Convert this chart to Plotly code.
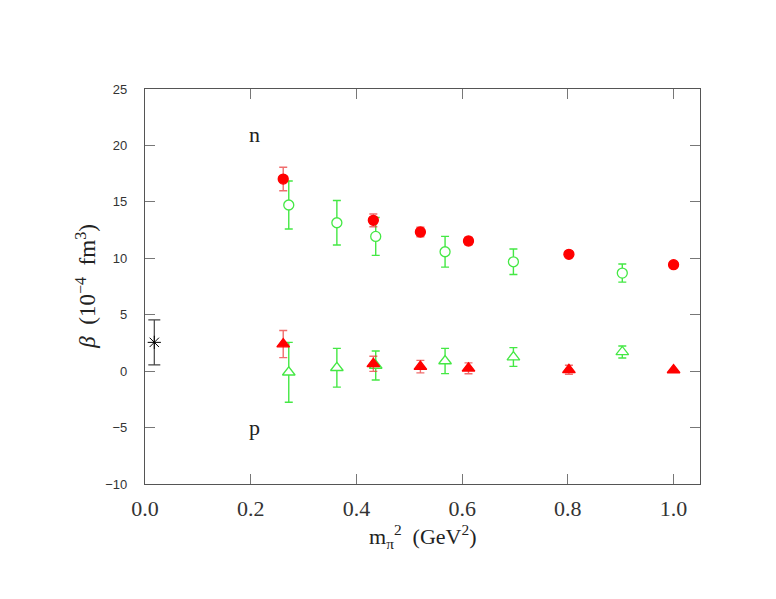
import plotly.graph_objects as go

# neutron (upper) and proton (lower) beta values, two lattice sets
x_red = [0.2615, 0.432, 0.521, 0.612, 0.802, 1.000]
n_red = [17.02, 13.36, 12.33, 11.53, 10.35, 9.43]
n_red_err = [1.04, 0.57, 0.42, 0.33, 0.0, 0.0]
p_red = [2.4, 0.65, 0.4, 0.25, 0.12, 0.1]
p_red_err = [1.2, 0.67, 0.55, 0.48, 0.4, 0.0]

x_green = [0.272, 0.363, 0.4365, 0.5677, 0.697, 0.903]
n_green = [14.72, 13.15, 11.94, 10.58, 9.69, 8.69]
n_green_err = [2.13, 1.97, 1.68, 1.36, 1.13, 0.8]
p_green = [-0.1, 0.3, 0.5, 0.9, 1.25, 1.7]
p_green_err = [2.65, 1.72, 1.28, 1.12, 0.83, 0.53]

x_exp = [0.0176]
y_exp = [2.55]
y_exp_err = [2.0]

RED = "#ff0000"
RED_BAR = "rgba(235,60,60,0.75)"
GREEN = "#44e844"
SERIF = "Liberation Serif"

fig = go.Figure()

def add(x, y, err, sym, color, barcolor, size, fill=True):
    fig.add_trace(go.Scatter(
        x=x, y=y, mode="markers",
        marker=dict(symbol=sym, size=size,
                    color=color if fill else "white",
                    line=dict(color=color, width=1.3)),
        error_y=dict(type="data", array=err, visible=True,
                     color=barcolor, thickness=1.4, width=4),
        showlegend=False))

add(x_green, n_green, n_green_err, "circle", GREEN, GREEN, 10, fill=False)
add(x_green, p_green, p_green_err, "triangle-up", GREEN, GREEN, 11, fill=False)
add(x_red, n_red, n_red_err, "circle", RED, RED_BAR, 10)
add(x_red, p_red, p_red_err, "triangle-up", RED, RED_BAR, 11)

fig.add_trace(go.Scatter(
    x=x_exp, y=y_exp, mode="markers",
    marker=dict(symbol="asterisk-open", size=11, color="black",
                line=dict(color="black", width=1)),
    error_y=dict(type="data", array=y_exp_err, visible=True,
                 color="#444", thickness=1.2, width=6),
    showlegend=False))

fig.add_annotation(x=0.208, y=21.0, text="n", showarrow=False,
                   font=dict(family=SERIF, size=22, color="#222"))
fig.add_annotation(x=0.208, y=-4.95, text="p", showarrow=False,
                   font=dict(family=SERIF, size=22, color="#222"))

fig.add_annotation(xref="paper", yref="paper", x=-0.106, y=0.5,
                   xanchor="center", yanchor="middle",
                   text="<i>β</i>&nbsp;&nbsp;(10<sup>−4</sup>&nbsp;&nbsp;fm<sup>3</sup>)",
                   textangle=-90, showarrow=False,
                   font=dict(family=SERIF, size=23, color="#222"))
fig.add_annotation(xref="paper", yref="paper", x=0.5, y=-0.133,
                   xanchor="center", yanchor="middle",
                   text="m<sub>π</sub><sup>2</sup>&nbsp;&nbsp;(GeV<sup>2</sup>)",
                   showarrow=False,
                   font=dict(family=SERIF, size=22, color="#222"))

axis_common = dict(showline=True, mirror="ticks", linecolor="#555",
                   linewidth=1.2, ticks="inside", ticklen=10,
                   tickcolor="#777", tickwidth=1.2,
                   showgrid=False, zeroline=False)

fig.update_xaxes(range=[0, 1.05], tickvals=[0, 0.2, 0.4, 0.6, 0.8, 1.0],
                 ticktext=["0.0", "0.2", "0.4", "0.6", "0.8", "1.0"],
                 ticklabelstandoff=4,
                 tickfont=dict(family=SERIF, size=22, color="#333"),
                 **axis_common)
fig.update_yaxes(range=[-10, 25], tickvals=[-10, -5, 0, 5, 10, 15, 20, 25],
                 ticktext=["−10", "−5", "0", "5", "10", "15", "20", "25"],
                 ticklabelstandoff=14,
                 tickfont=dict(family="Liberation Sans", size=13, color="#333"),
                 **axis_common)

fig.update_layout(width=776, height=599,
                  margin=dict(l=137, r=84, t=81, b=123),
                  paper_bgcolor="white", plot_bgcolor="white")

fig.write_html("out.html")
